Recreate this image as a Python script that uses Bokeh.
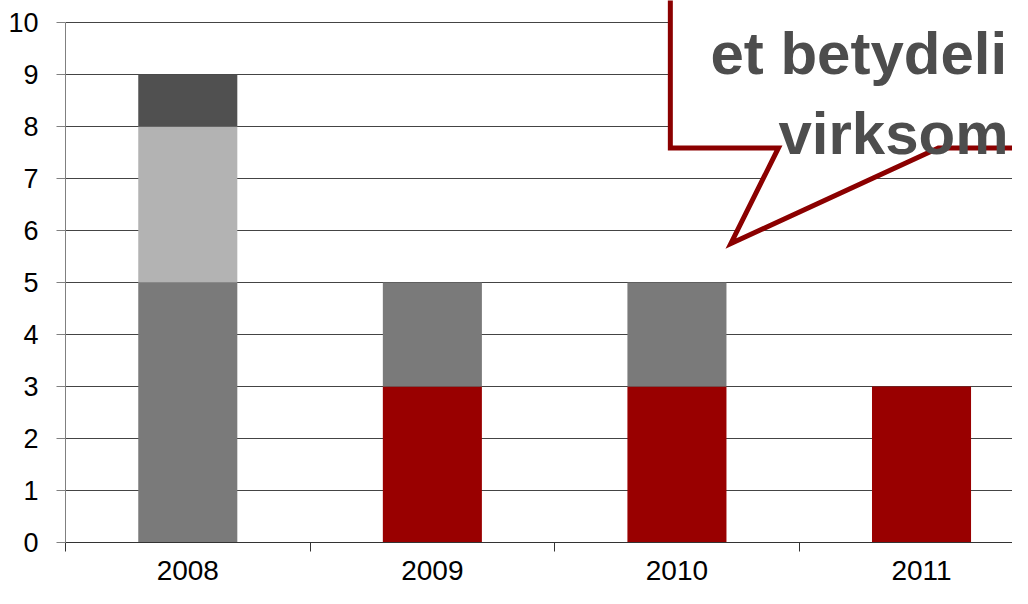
from bokeh.plotting import figure
from bokeh.models import Range1d, FixedTicker, ColumnDataSource
from bokeh.core.properties import value
from bokeh.embed import file_html
from bokeh.resources import INLINE

# ---- data ----
years = ["2008", "2009", "2010", "2011"]
red_vals = [0, 3, 3, 3]
gray_vals = [5, 2, 2, 0]
light_vals = [3, 0, 0, 0]
dark_vals = [1, 0, 0, 0]
y_ticks = list(range(0, 11))
callout_lines = ["et betydeli", "virksom"]

xs = list(range(len(years)))
src = ColumnDataSource(dict(x=xs, red=red_vals, gray=gray_vals, light=light_vals, dark=dark_vals))

FONT = "Liberation Sans"

p = figure(width=1012, height=588, output_backend="svg", toolbar_location=None,
           x_range=Range1d(-0.5, 3.372), y_range=Range1d(0, 10.423),
           min_border_left=65, min_border_right=0, min_border_top=0, min_border_bottom=46)
p.outline_line_color = None
p.background_fill_color = "white"
p.xgrid.grid_line_color = None
p.ygrid.grid_line_color = "#444444"
p.ygrid.grid_line_width = 1
p.ygrid.ticker = FixedTicker(ticks=y_ticks)

p.vbar_stack(["red", "gray", "light", "dark"], x="x", width=0.405, source=src,
             color=["#990000", "#7a7a7a", "#b3b3b3", "#505050"], line_width=0)

# callout bubble (annotation shape, in data units)
bx = [1.973, 2.415, 2.2206, 3.069, 3.73, 3.73, 1.973]
by = [7.587, 7.587, 5.75, 7.587, 7.587, 11.5, 11.5]
p.patch(bx, by, fill_color="white", line_color="#8b0000", line_width=5, line_join="miter")
p.text(x=[2.137, 2.415], y=[9.404, 7.865], text=callout_lines,
       text_font=value(FONT), text_font_style="bold", text_font_size="60px",
       text_color="#4d4d4d", text_align="left", text_baseline="alphabetic")

# y axis
ya = p.yaxis[0]
ya.ticker = FixedTicker(ticks=y_ticks)
ya.bounds = (0, 10)
ya.axis_line_color = "#808080"
ya.major_tick_line_color = "#808080"
ya.major_tick_out = 9
ya.major_tick_in = 0
ya.minor_tick_line_color = None
ya.major_label_standoff = 18
ya.major_label_text_font = FONT
ya.major_label_text_font_size = "27px"
ya.major_label_text_color = "black"

# x axis
xa = p.xaxis[0]
xa.ticker = FixedTicker(ticks=xs, minor_ticks=[-0.5, 0.5, 1.5, 2.5])
xa.major_label_overrides = {i: y for i, y in zip(xs, years)}
xa.axis_line_color = "#333333"
xa.major_tick_line_color = None
xa.major_tick_out = 0
xa.major_tick_in = 0
xa.minor_tick_line_color = "#333333"
xa.minor_tick_out = 9
xa.minor_tick_in = 0
xa.major_label_standoff = 9
xa.major_label_text_font = FONT
xa.major_label_text_font_size = "28px"
xa.major_label_text_color = "black"

open("out.html", "w").write(file_html(p, INLINE))
